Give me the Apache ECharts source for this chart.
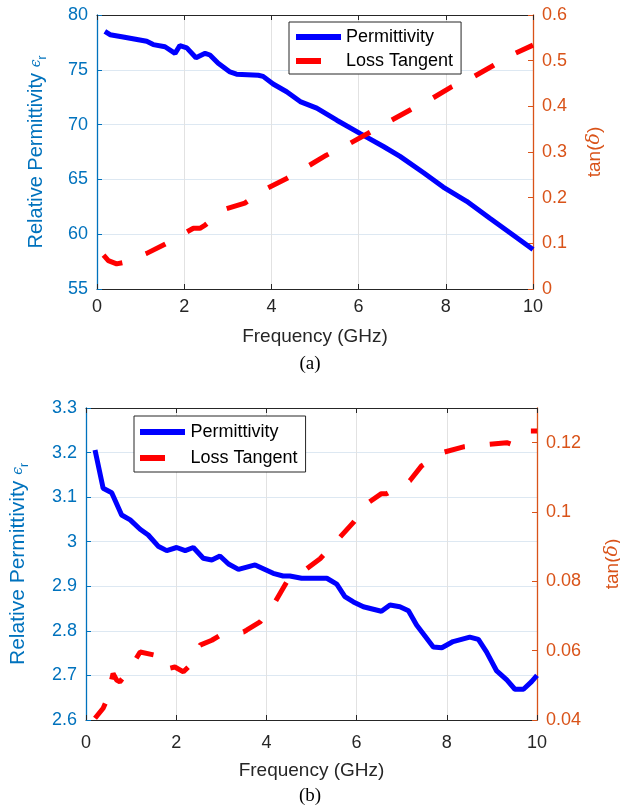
<!DOCTYPE html>
<html>
<head>
<meta charset="utf-8">
<script src="https://cdn.jsdelivr.net/npm/echarts@6/dist/echarts.min.js"></script>
<style>
html,body{margin:0;padding:0;background:#fff;}
#c{width:620px;height:810px;}
</style>
</head>
<body>
<div id="c"></div>
<script>
// ---------- data (a) ----------
const freqPermA = [0.18,0.3,0.6,1.14,1.29,1.56,1.79,1.9,2.06,2.27,2.48,2.59,2.78,3.05,3.2,3.7,3.81,4.04,4.35,4.66,5.04,5.5,6.03,6.57,6.95,7.49,7.94,8.48,9.01,9.55,10.0];
const permA     = [78.5,78.2,78.0,77.6,77.3,77.1,76.5,77.2,77.0,76.1,76.5,76.35,75.6,74.8,74.6,74.5,74.4,73.7,73.0,72.1,71.5,70.4,69.2,68.0,67.1,65.6,64.3,63.0,61.45,59.9,58.6];
const freqLossA = [0.15,0.26,0.45,0.6,1.14,1.6,2.06,2.21,2.36,2.48,2.94,3.39,3.89,4.35,4.84,5.26,5.8,6.22,6.76,7.18,7.68,8.14,8.64,9.1,9.59,10.0];
const lossA     = [0.074,0.062,0.055,0.058,0.078,0.1,0.125,0.133,0.133,0.14,0.175,0.188,0.22,0.242,0.269,0.293,0.319,0.341,0.37,0.392,0.417,0.443,0.465,0.49,0.516,0.534];
// ---------- data (b) ----------
const freqPermB = [0.2,0.38,0.57,0.79,0.98,1.2,1.38,1.6,1.79,2.01,2.2,2.38,2.6,2.79,2.97,3.16,3.38,3.75,4.15,4.37,4.52,4.78,5.34,5.56,5.74,5.93,6.15,6.55,6.74,6.96,7.15,7.33,7.7,7.89,8.14,8.51,8.7,8.88,9.1,9.33,9.51,9.7,9.88,10.0];
const permB     = [3.206,3.12,3.11,3.06,3.049,3.028,3.015,2.99,2.98,2.987,2.98,2.987,2.963,2.959,2.968,2.95,2.938,2.948,2.929,2.923,2.923,2.918,2.918,2.905,2.877,2.865,2.854,2.844,2.858,2.854,2.845,2.813,2.764,2.762,2.776,2.786,2.781,2.753,2.711,2.69,2.669,2.669,2.686,2.70];
const freqLossB = [0.2,0.38,0.46,0.6,0.68,0.75,0.98,1.2,1.53,1.64,1.75,1.97,2.16,2.27,2.53,2.79,2.97,3.49,3.56,3.86,4.19,4.45,4.89,5.19,5.63,5.93,6.26,6.55,6.67,7.18,7.44,7.89,8.37,8.92,9.33,9.44,9.84,10.0];
const lossB     = [0.0405,0.0434,0.0457,0.0534,0.0515,0.051,0.0549,0.0596,0.0587,0.0577,0.0546,0.0553,0.0539,0.0553,0.0616,0.063,0.0644,0.0654,0.0659,0.0683,0.074,0.0798,0.0836,0.0865,0.0927,0.097,0.1027,0.1053,0.1053,0.109,0.1133,0.1171,0.1188,0.1195,0.12,0.1195,0.1234,0.1234];
// ---------- axes ----------
const xTicks = [0,2,4,6,8,10];
const yLeftA = [55,80,5], yRightA = [0,0.6,0.1];
const yLeftB = [2.6,3.3,0.1], yRightB = [0.04,0.13,0.02];
const xName = 'Frequency (GHz)';
const leftName = '{a|Relative Permittivity }{e|ϵ}{s|r}';
const rightName = '{a|tan(}{d|δ}{a|)}';
const seriesNames = ['Permittivity','Loss Tangent'];

const pair = (xs, ys) => xs.map((x,i)=>[x, ys[i]]);
const BLUE='#0072BD', ORANGE='#D95319', DARK='#262626';
const FONT='Liberation Sans';

function xAxes(gi, labMargin, nameGap){
  return [{
    gridIndex:gi, type:'value', min:xTicks[0], max:xTicks[xTicks.length-1], interval:2,
    name:xName, nameLocation:'middle', nameGap:nameGap,
    nameTextStyle:{color:DARK,fontSize:19,fontFamily:FONT},
    axisLine:{lineStyle:{color:DARK,width:1}},
    axisTick:{inside:true,length:5,lineStyle:{color:DARK}},
    axisLabel:{color:DARK,fontSize:18,fontFamily:FONT,margin:labMargin},
    splitLine:{show:true,lineStyle:{color:'#e2e2e2',width:1}}
  },{
    gridIndex:gi, type:'value', position:'top', min:0, max:10, interval:2,
    axisLine:{show:true,onZero:false,lineStyle:{color:DARK,width:1}},
    axisTick:{inside:true,length:5,lineStyle:{color:DARK}},
    axisLabel:{show:false}, splitLine:{show:false}
  }];
}
function yAxes(gi, L, R, lgap, rgap, lsize){
  return [{
    gridIndex:gi, type:'value', position:'left', min:L[0], max:L[1], interval:L[2],
    name:leftName, nameLocation:'middle', nameRotate:90, nameGap:lgap,
    nameTextStyle:{rich:{
      a:{fontSize:lsize,color:BLUE,fontFamily:FONT,lineHeight:26},
      e:{fontSize:14,color:BLUE,fontFamily:'DejaVu Serif',fontStyle:'italic',lineHeight:26},
      s:{fontSize:12,color:BLUE,fontFamily:FONT,verticalAlign:'bottom',lineHeight:12}
    }},
    axisLine:{show:true,onZero:false,lineStyle:{color:BLUE,width:1.3}},
    axisTick:{inside:true,length:5,lineStyle:{color:BLUE}},
    axisLabel:{color:BLUE,fontSize:18,fontFamily:FONT,margin:9},
    splitLine:{show:true,lineStyle:{color:'#dde8f2',width:1}}
  },{
    gridIndex:gi, type:'value', position:'right', min:R[0], max:R[1], interval:R[2],
    name:rightName, nameLocation:'middle', nameRotate:90, nameGap:rgap,
    nameTextStyle:{rich:{
      a:{fontSize:19,color:ORANGE,fontFamily:FONT},
      d:{fontSize:19,color:ORANGE,fontFamily:'DejaVu Serif',fontStyle:'italic'}
    }},
    axisLine:{show:true,onZero:false,lineStyle:{color:ORANGE,width:1.3}},
    axisTick:{inside:true,length:5,lineStyle:{color:ORANGE}},
    axisLabel:{color:ORANGE,fontSize:18,fontFamily:FONT,margin:9,showMaxLabel: gi===0},
    splitLine:{show:false}
  }];
}

const iconSolid = 'path://M0,0H45V6H0Z';
const iconDash  = 'path://M0,0H25V6H0Z M44.9,2.95H45V3.05H44.9Z';
function legendData(){
  return [{name:seriesNames[0], icon:iconSolid},{name:seriesNames[1], icon:iconDash}];
}

const chart = echarts.init(document.getElementById('c'), null, {renderer:'canvas'});
chart.setOption({
  animation:false,
  backgroundColor:'#fff',
  title:[
    {text:'(a)', left:'center', top:355, textStyle:{fontFamily:'Liberation Serif',fontSize:19,fontWeight:'normal',color:'#000'}, padding:0},
    {text:'(b)', left:'center', top:787, textStyle:{fontFamily:'Liberation Serif',fontSize:19,fontWeight:'normal',color:'#000'}, padding:0}
  ],
  grid:[
    {left:97, top:15, width:436, height:274, containLabel:false, outerBoundsMode:'none'},
    {left:86, top:408, width:451, height:312, containLabel:false, outerBoundsMode:'none'}
  ],
  xAxis:[...xAxes(0,9,38), ...xAxes(1,14,41)],
  yAxis:[...yAxes(0,yLeftA,yRightA,48,52,20), ...yAxes(1,yLeftB,yRightB,55,66,21)],
  legend:[
    {left:289, top:22, orient:'vertical', padding:[6,8,4,7], itemGap:6, itemWidth:45, itemHeight:6,
     borderColor:DARK, borderWidth:1, backgroundColor:'#fff', itemStyle:{borderWidth:0},
     textStyle:{fontSize:18,fontFamily:FONT,color:'#000',lineHeight:17},
     data:legendData(), selectedMode:false},
    {left:134, top:416, orient:'vertical', padding:[7,8,5,6], itemGap:8, itemWidth:46, itemHeight:6,
     borderColor:DARK, borderWidth:1, backgroundColor:'#fff', itemStyle:{borderWidth:0},
     textStyle:{fontSize:18,fontFamily:FONT,color:'#000',lineHeight:17},
     data:legendData(), selectedMode:false}
  ],
  series:[
    {name:seriesNames[0], type:'line', xAxisIndex:0, yAxisIndex:0, data:pair(freqPermA,permA), symbol:'none', smooth:false,
     lineStyle:{color:'#0000ff',width:5}, itemStyle:{color:'#0000ff'}},
    {name:seriesNames[1], type:'line', xAxisIndex:0, yAxisIndex:1, data:pair(freqLossA,lossA), symbol:'none',
     lineStyle:{color:'#ff0000',width:5,type:[22,25],dashOffset:0}, itemStyle:{color:'#ff0000'}},
    {name:seriesNames[0], type:'line', xAxisIndex:2, yAxisIndex:2, data:pair(freqPermB,permB), symbol:'none',
     lineStyle:{color:'#0000ff',width:5}, itemStyle:{color:'#0000ff'}},
    {name:seriesNames[1], type:'line', xAxisIndex:2, yAxisIndex:3, data:pair(freqLossB,lossB), symbol:'none',
     lineStyle:{color:'#ff0000',width:5,type:[21,25],dashOffset:3}, itemStyle:{color:'#ff0000'}}
  ]
});
</script>
</body>
</html>
